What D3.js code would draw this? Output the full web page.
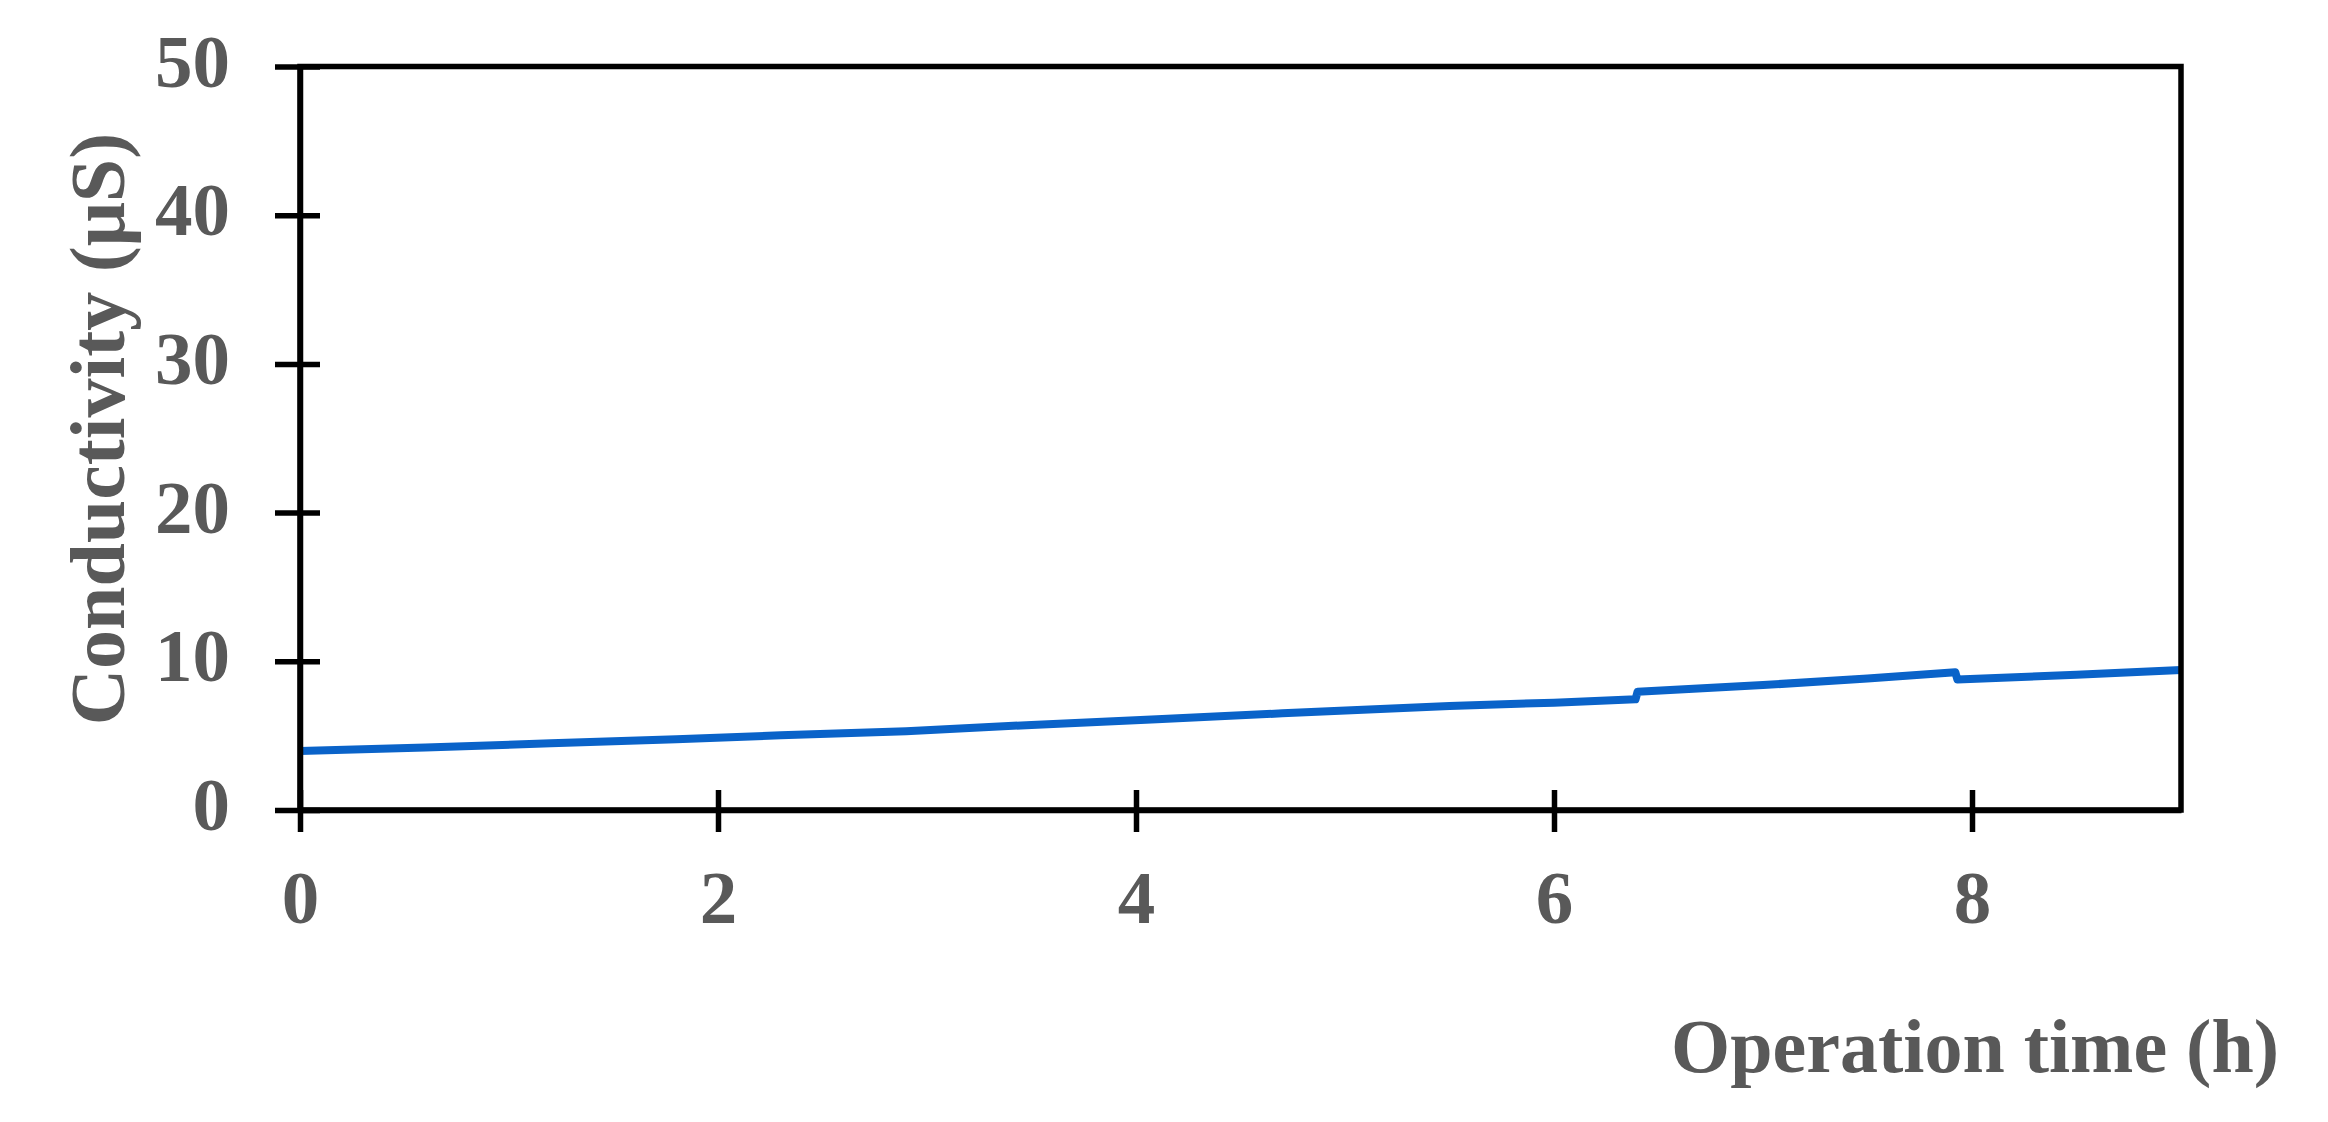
<!DOCTYPE html>
<html>
<head>
<meta charset="utf-8">
<script src="https://cdn.jsdelivr.net/npm/d3@7"></script>
<style>
  html, body { margin: 0; padding: 0; background: #fff; overflow: hidden; }
  svg { display: block; }
  text { font-family: "Liberation Serif", "Times New Roman", serif; font-weight: bold; fill: #595959; }
</style>
</head>
<body>
<div id="chart"></div>
<script>
// data
var timeH = [0, 0.6, 1.2, 1.8, 2.3, 2.9, 3.5, 4.1, 4.7, 5.5, 6.0, 6.39, 6.4, 7.0, 7.5, 7.92, 7.93, 8.5, 9.0];
var conductivity = [3.97, 4.2, 4.49, 4.75, 5.02, 5.3, 5.72, 6.1, 6.5, 6.99, 7.22, 7.44, 7.96, 8.4, 8.85, 9.27, 8.78, 9.1, 9.42];
var xTicks = [0, 2, 4, 6, 8];
var yTicks = [0, 10, 20, 30, 40, 50];
var xLabel = "Operation time (h)";
var yLabel = "Conductivity (\u03bcS)";

var points = timeH.map(function(t, i) {
  return { t: t, v: conductivity[i] };
});

//sizes
var outerWidth = 2328;
var outerHeight = 1122;
var margin = { top: 66.5, right: 147, bottom: 312, left: 300 };
var innerWidth = outerWidth - margin.left - margin.right;
var innerHeight = outerHeight - margin.top - margin.bottom;

var svg = d3
  .select("#chart")
  .append("svg")
  .attr("width", outerWidth)
  .attr("height", outerHeight);

var g = svg
  .append("g")
  .attr("transform", "translate(" + margin.left + "," + margin.top + ")");

//scales
var xScale = d3.scaleLinear().domain([0, 9]).range([0, innerWidth]);
var yScale = d3.scaleLinear().domain([0, 50]).range([innerHeight, 0]);

//data line
var line = d3
  .line()
  .x(function(d) { return xScale(d.t); })
  .y(function(d) { return yScale(d.v); });

g.append("path")
  .datum(points)
  .attr("d", line)
  .attr("fill", "none")
  .attr("stroke", "#0a63c9")
  .attr("stroke-width", 8)
  .attr("stroke-linejoin", "round");

//frame (top and right)
g.append("rect")
  .attr("width", innerWidth)
  .attr("height", innerHeight)
  .attr("fill", "none")
  .attr("stroke", "#000")
  .attr("stroke-width", 5.5);

//y axis
var yAxis = d3
  .axisLeft(yScale)
  .tickValues(yTicks)
  .tickSizeInner(25)
  .tickSizeOuter(0)
  .tickPadding(45);

var yG = g
  .append("g")
  .attr("class", "y axis")
  .call(yAxis)
  .attr("font-size", 75)
  .attr("font-family", null);
yG.select(".domain").attr("stroke", "#000").attr("stroke-width", 5.5);
yG.selectAll(".tick line").attr("x1", 20).attr("stroke", "#000").attr("stroke-width", 5.5);
yG.selectAll(".tick text").attr("fill", "#595959").attr("dy", "0.26em");

//x axis
var xAxis = d3
  .axisBottom(xScale)
  .tickValues(xTicks)
  .tickSizeInner(22)
  .tickSizeOuter(0)
  .tickPadding(38);

var xG = g
  .append("g")
  .attr("class", "x axis")
  .attr("transform", "translate(0," + innerHeight + ")")
  .call(xAxis)
  .attr("font-size", 75)
  .attr("font-family", null);
xG.select(".domain").attr("stroke", "#000").attr("stroke-width", 5.5);
xG.selectAll(".tick line").attr("y1", -20).attr("stroke", "#000").attr("stroke-width", 5.5);
xG.selectAll(".tick text").attr("fill", "#595959");

//axis titles
svg
  .append("text")
  .attr("x", 2279)
  .attr("y", 1072)
  .attr("text-anchor", "end")
  .attr("font-size", 76)
  .text(xLabel);

svg
  .append("text")
  .attr("transform", "translate(124," + 429 + ") rotate(-90)")
  .attr("text-anchor", "middle")
  .attr("font-size", 78)
  .text(yLabel);
</script>
</body>
</html>
